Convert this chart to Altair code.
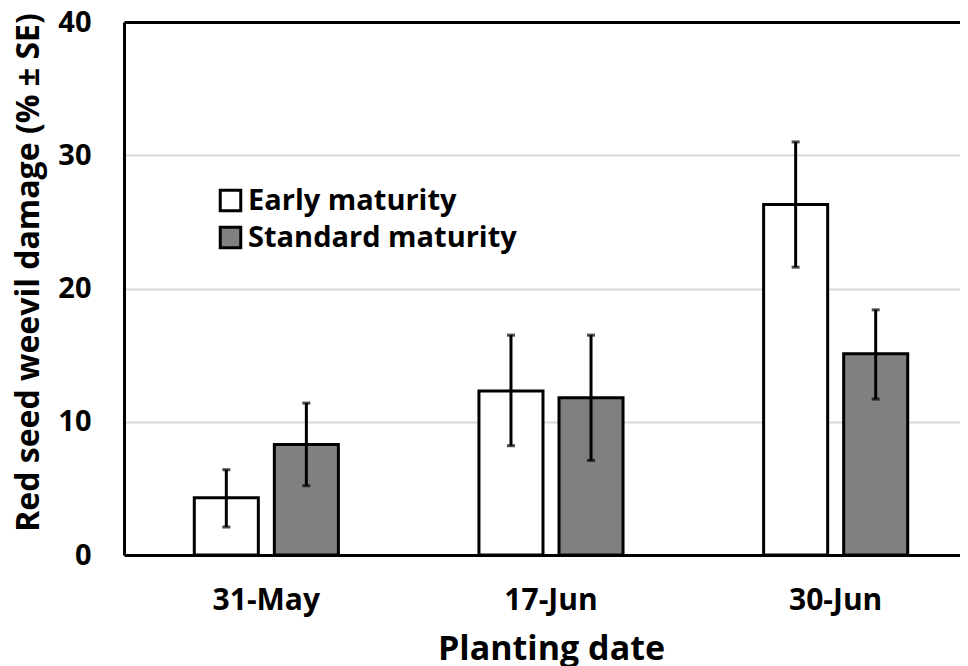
import altair as alt
import pandas as pd

dates = ["31-May", "17-Jun", "30-Jun"]
groups = ["Early maturity", "Standard maturity"]
early_mean = [4.3, 12.3, 26.3]
early_low = [2.1, 8.2, 21.6]
early_high = [6.4, 16.5, 31.0]
std_mean = [8.3, 11.8, 15.1]
std_low = [5.2, 7.1, 11.7]
std_high = [11.4, 16.5, 18.4]
y_ticks = [0, 10, 20, 30, 40]
fills = ["white", "#808080"]

rows = []
for i, d in enumerate(dates):
    rows.append(dict(date=d, group=groups[0], mean=early_mean[i], low=early_low[i], high=early_high[i]))
    rows.append(dict(date=d, group=groups[1], mean=std_mean[i], low=std_low[i], high=std_high[i]))
df = pd.DataFrame(rows)

FONT = "Open Sans"

x_scale = alt.Scale(paddingInner=0.4376, paddingOuter=0.2188, range=[0, 854])
x = alt.X(
    "date:N", sort=dates, scale=x_scale,
    axis=alt.Axis(
        title="Planting date", labelAngle=0, ticks=False,
        labelFont=FONT, labelFontSize=30, labelFontWeight="bold", labelColor="black",
        labelPadding=30,
        titleFont=FONT, titleFontSize=34, titleFontWeight="bold", titleColor="black",
        titlePadding=17,
        domainColor="black", domainWidth=3, grid=False,
    ),
)
xoff = alt.XOffset("group:N", sort=groups, scale=alt.Scale(paddingInner=0.2, paddingOuter=0.1))

y_axis = alt.Axis(
    title="Red seed weevil damage (% ± SE)", values=y_ticks, ticks=False,
    labelFont=FONT, labelFontSize=29, labelFontWeight="bold", labelColor="black",
    labelPadding=33,
    titleFont=FONT, titleFontSize=32, titleFontWeight="bold", titleColor="black",
    titlePadding=12, titleY=250,
    domainColor="black", domainWidth=3,
    grid=True,
    gridColor={"condition": {"test": "datum.value === 40", "value": "black"}, "value": "#d9d9d9"},
    gridWidth={"condition": {"test": "datum.value === 40", "value": 3}, "value": 2},
)

bars = alt.Chart(df).mark_bar(stroke="black", strokeWidth=3).encode(
    x=x, xOffset=xoff,
    y=alt.Y("mean:Q", scale=alt.Scale(domain=[0, 40]), axis=y_axis),
    fill=alt.Fill(
        "group:N", sort=groups,
        scale=alt.Scale(domain=groups, range=fills),
        legend=alt.Legend(
            title=None, orient="none", legendX=92, legendY=164,
            symbolType="square", symbolSize=420, symbolStrokeColor="black", symbolStrokeWidth=3,
            labelFont=FONT, labelFontSize=29, labelFontWeight="bold", labelColor="black",
            labelOffset=3, rowPadding=4, labelLimit=0,
        ),
    ),
)

rules = alt.Chart(df).mark_rule(color="black", strokeWidth=3).encode(
    x=alt.X("date:N", sort=dates), xOffset=xoff,
    y="low:Q", y2="high:Q",
)
cap_lo = alt.Chart(df).mark_tick(color="black", size=8, thickness=3).encode(
    x=alt.X("date:N", sort=dates), xOffset=xoff, y="low:Q",
)
cap_hi = alt.Chart(df).mark_tick(color="black", size=8, thickness=3).encode(
    x=alt.X("date:N", sort=dates), xOffset=xoff, y="high:Q",
)

chart = alt.layer(bars, rules, cap_lo, cap_hi).properties(
    width=836, height=533,
    autosize=alt.AutoSizeParams(type="none"),
    padding={"left": 116, "top": 14, "right": 0, "bottom": 111},
).configure_view(strokeWidth=0).configure(background="white")

chart.save("out.html", embed_options={"renderer": "svg", "actions": False})
